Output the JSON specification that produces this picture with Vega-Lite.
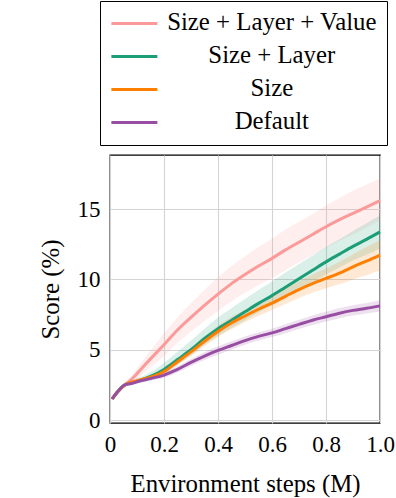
{
  "$schema": "https://vega.github.io/schema/vega-lite/v6.json",
  "autosize": {"type": "none"},
  "padding": {"left": 110, "top": 155, "right": 16, "bottom": 75},
  "width": 270,
  "height": 268,
  "background": "white",
  "config": {
    "view": {"stroke": "black", "strokeWidth": 1.3},
    "font": "Liberation Serif",
    "axis": {
      "labelFont": "Liberation Serif",
      "labelFontSize": 23,
      "labelColor": "black",
      "titleFont": "Liberation Serif",
      "titleFontSize": 24.8,
      "titleFontWeight": "normal",
      "titleColor": "black",
      "domain": false,
      "ticks": false,
      "tickSize": 0,
      "gridColor": "#d4d4d4",
      "gridWidth": 1.1,
      "gridOpacity": 1
    },
    "legend": {
      "labelFont": "Liberation Serif",
      "titleFont": "Liberation Serif"
    }
  },
  "resolve": {"legend": {"color": "independent"}},
  "datasets": {
    "curves": [
      {"m": "Size + Layer + Value", "x": 0.008, "y": 1.5, "lo": 1.4, "hi": 1.6},
      {"m": "Size + Layer + Value", "x": 0.03, "y": 2.05, "lo": 1.95, "hi": 2.15},
      {"m": "Size + Layer + Value", "x": 0.055, "y": 2.5, "lo": 2.4, "hi": 2.6},
      {"m": "Size + Layer + Value", "x": 0.08, "y": 2.9, "lo": 2.6, "hi": 3.2},
      {"m": "Size + Layer + Value", "x": 0.1, "y": 3.3, "lo": 2.9, "hi": 3.7},
      {"m": "Size + Layer + Value", "x": 0.15, "y": 4.35, "lo": 3.75, "hi": 4.95},
      {"m": "Size + Layer + Value", "x": 0.2, "y": 5.35, "lo": 4.55, "hi": 6.15},
      {"m": "Size + Layer + Value", "x": 0.25, "y": 6.4, "lo": 5.5, "hi": 7.3},
      {"m": "Size + Layer + Value", "x": 0.3, "y": 7.3, "lo": 6.3, "hi": 8.3},
      {"m": "Size + Layer + Value", "x": 0.35, "y": 8.15, "lo": 7.05, "hi": 9.25},
      {"m": "Size + Layer + Value", "x": 0.4, "y": 8.95, "lo": 7.75, "hi": 10.15},
      {"m": "Size + Layer + Value", "x": 0.45, "y": 9.7, "lo": 8.45, "hi": 10.95},
      {"m": "Size + Layer + Value", "x": 0.5, "y": 10.35, "lo": 9.05, "hi": 11.65},
      {"m": "Size + Layer + Value", "x": 0.55, "y": 10.95, "lo": 9.6, "hi": 12.3},
      {"m": "Size + Layer + Value", "x": 0.6, "y": 11.5, "lo": 10.1, "hi": 12.9},
      {"m": "Size + Layer + Value", "x": 0.65, "y": 12.1, "lo": 10.65, "hi": 13.55},
      {"m": "Size + Layer + Value", "x": 0.7, "y": 12.65, "lo": 11.2, "hi": 14.1},
      {"m": "Size + Layer + Value", "x": 0.75, "y": 13.2, "lo": 11.75, "hi": 14.65},
      {"m": "Size + Layer + Value", "x": 0.8, "y": 13.75, "lo": 12.25, "hi": 15.25},
      {"m": "Size + Layer + Value", "x": 0.85, "y": 14.25, "lo": 12.75, "hi": 15.8},
      {"m": "Size + Layer + Value", "x": 0.9, "y": 14.7, "lo": 13.2, "hi": 16.3},
      {"m": "Size + Layer + Value", "x": 0.95, "y": 15.15, "lo": 13.7, "hi": 16.75},
      {"m": "Size + Layer + Value", "x": 1.0, "y": 15.6, "lo": 14.2, "hi": 17.2},
      {"m": "Size + Layer", "x": 0.008, "y": 1.5, "lo": 1.45, "hi": 1.55},
      {"m": "Size + Layer", "x": 0.03, "y": 2.05, "lo": 2.0, "hi": 2.1},
      {"m": "Size + Layer", "x": 0.055, "y": 2.5, "lo": 2.45, "hi": 2.55},
      {"m": "Size + Layer", "x": 0.08, "y": 2.65, "lo": 2.55, "hi": 2.8},
      {"m": "Size + Layer", "x": 0.1, "y": 2.75, "lo": 2.6, "hi": 2.95},
      {"m": "Size + Layer", "x": 0.15, "y": 3.1, "lo": 2.9, "hi": 3.4},
      {"m": "Size + Layer", "x": 0.2, "y": 3.6, "lo": 3.3, "hi": 4.05},
      {"m": "Size + Layer", "x": 0.25, "y": 4.3, "lo": 3.95, "hi": 4.85},
      {"m": "Size + Layer", "x": 0.3, "y": 5.0, "lo": 4.6, "hi": 5.65},
      {"m": "Size + Layer", "x": 0.35, "y": 5.8, "lo": 5.35, "hi": 6.5},
      {"m": "Size + Layer", "x": 0.4, "y": 6.5, "lo": 6.0, "hi": 7.3},
      {"m": "Size + Layer", "x": 0.45, "y": 7.1, "lo": 6.55, "hi": 7.95},
      {"m": "Size + Layer", "x": 0.5, "y": 7.7, "lo": 7.1, "hi": 8.6},
      {"m": "Size + Layer", "x": 0.55, "y": 8.3, "lo": 7.65, "hi": 9.25},
      {"m": "Size + Layer", "x": 0.6, "y": 8.85, "lo": 8.15, "hi": 9.85},
      {"m": "Size + Layer", "x": 0.65, "y": 9.45, "lo": 8.7, "hi": 10.5},
      {"m": "Size + Layer", "x": 0.7, "y": 10.05, "lo": 9.25, "hi": 11.1},
      {"m": "Size + Layer", "x": 0.75, "y": 10.65, "lo": 9.8, "hi": 11.7},
      {"m": "Size + Layer", "x": 0.8, "y": 11.25, "lo": 10.35, "hi": 12.3},
      {"m": "Size + Layer", "x": 0.85, "y": 11.8, "lo": 10.85, "hi": 12.85},
      {"m": "Size + Layer", "x": 0.9, "y": 12.35, "lo": 11.35, "hi": 13.45},
      {"m": "Size + Layer", "x": 0.95, "y": 12.85, "lo": 11.75, "hi": 14.0},
      {"m": "Size + Layer", "x": 1.0, "y": 13.38, "lo": 12.2, "hi": 14.57},
      {"m": "Size", "x": 0.008, "y": 1.5, "lo": 1.45, "hi": 1.55},
      {"m": "Size", "x": 0.03, "y": 2.05, "lo": 2.0, "hi": 2.1},
      {"m": "Size", "x": 0.055, "y": 2.5, "lo": 2.45, "hi": 2.55},
      {"m": "Size", "x": 0.08, "y": 2.7, "lo": 2.6, "hi": 2.8},
      {"m": "Size", "x": 0.1, "y": 2.8, "lo": 2.68, "hi": 2.92},
      {"m": "Size", "x": 0.15, "y": 3.05, "lo": 2.9, "hi": 3.2},
      {"m": "Size", "x": 0.2, "y": 3.45, "lo": 3.25, "hi": 3.65},
      {"m": "Size", "x": 0.25, "y": 4.15, "lo": 3.9, "hi": 4.4},
      {"m": "Size", "x": 0.3, "y": 4.85, "lo": 4.55, "hi": 5.15},
      {"m": "Size", "x": 0.35, "y": 5.6, "lo": 5.25, "hi": 5.95},
      {"m": "Size", "x": 0.4, "y": 6.3, "lo": 5.9, "hi": 6.7},
      {"m": "Size", "x": 0.45, "y": 6.9, "lo": 6.45, "hi": 7.35},
      {"m": "Size", "x": 0.5, "y": 7.4, "lo": 6.95, "hi": 7.85},
      {"m": "Size", "x": 0.55, "y": 7.88, "lo": 7.4, "hi": 8.36},
      {"m": "Size", "x": 0.6, "y": 8.32, "lo": 7.82, "hi": 8.82},
      {"m": "Size", "x": 0.65, "y": 8.8, "lo": 8.25, "hi": 9.35},
      {"m": "Size", "x": 0.7, "y": 9.28, "lo": 8.68, "hi": 9.88},
      {"m": "Size", "x": 0.75, "y": 9.7, "lo": 9.05, "hi": 10.35},
      {"m": "Size", "x": 0.8, "y": 10.07, "lo": 9.37, "hi": 10.77},
      {"m": "Size", "x": 0.85, "y": 10.45, "lo": 9.65, "hi": 11.25},
      {"m": "Size", "x": 0.9, "y": 10.9, "lo": 10.0, "hi": 11.8},
      {"m": "Size", "x": 0.95, "y": 11.3, "lo": 10.3, "hi": 12.3},
      {"m": "Size", "x": 1.0, "y": 11.73, "lo": 10.63, "hi": 12.83},
      {"m": "Default", "x": 0.008, "y": 1.5, "lo": 1.45, "hi": 1.55},
      {"m": "Default", "x": 0.03, "y": 2.05, "lo": 2.0, "hi": 2.1},
      {"m": "Default", "x": 0.055, "y": 2.5, "lo": 2.45, "hi": 2.55},
      {"m": "Default", "x": 0.08, "y": 2.6, "lo": 2.5, "hi": 2.7},
      {"m": "Default", "x": 0.1, "y": 2.72, "lo": 2.6, "hi": 2.84},
      {"m": "Default", "x": 0.15, "y": 2.95, "lo": 2.8, "hi": 3.1},
      {"m": "Default", "x": 0.2, "y": 3.2, "lo": 3.0, "hi": 3.4},
      {"m": "Default", "x": 0.25, "y": 3.6, "lo": 3.38, "hi": 3.82},
      {"m": "Default", "x": 0.3, "y": 4.1, "lo": 3.85, "hi": 4.35},
      {"m": "Default", "x": 0.35, "y": 4.55, "lo": 4.27, "hi": 4.83},
      {"m": "Default", "x": 0.4, "y": 4.95, "lo": 4.65, "hi": 5.25},
      {"m": "Default", "x": 0.45, "y": 5.3, "lo": 5.0, "hi": 5.6},
      {"m": "Default", "x": 0.5, "y": 5.65, "lo": 5.35, "hi": 5.95},
      {"m": "Default", "x": 0.55, "y": 5.95, "lo": 5.65, "hi": 6.25},
      {"m": "Default", "x": 0.6, "y": 6.2, "lo": 5.9, "hi": 6.5},
      {"m": "Default", "x": 0.65, "y": 6.5, "lo": 6.18, "hi": 6.82},
      {"m": "Default", "x": 0.7, "y": 6.8, "lo": 6.47, "hi": 7.13},
      {"m": "Default", "x": 0.75, "y": 7.1, "lo": 6.76, "hi": 7.44},
      {"m": "Default", "x": 0.8, "y": 7.35, "lo": 7.0, "hi": 7.7},
      {"m": "Default", "x": 0.85, "y": 7.6, "lo": 7.24, "hi": 7.96},
      {"m": "Default", "x": 0.9, "y": 7.8, "lo": 7.43, "hi": 8.17},
      {"m": "Default", "x": 0.95, "y": 7.95, "lo": 7.57, "hi": 8.33},
      {"m": "Default", "x": 1.0, "y": 8.12, "lo": 7.72, "hi": 8.52}
    ]
  },
  "data": {"name": "curves"},
  "layer": [
    {
      "mark": {"type": "area", "opacity": 0.17, "interpolate": "monotone"},
      "encoding": {
        "x": {"field": "x", "type": "quantitative", "scale": {"domain": [0, 1], "nice": false}},
        "y": {"field": "lo", "type": "quantitative", "scale": {"domain": [-0.21, 18.85], "nice": false}},
        "y2": {"field": "hi"},
        "color": {
          "field": "m", "type": "nominal",
          "scale": {"domain": ["Size + Layer + Value", "Size + Layer", "Size", "Default"], "range": ["#fb9a99", "#1b9e77", "#ff7f00", "#984ea3"]},
          "legend": null
        }
      }
    },
    {
      "mark": {"type": "line", "strokeWidth": 3, "interpolate": "monotone"},
      "encoding": {
        "x": {
          "field": "x", "type": "quantitative",
          "scale": {"domain": [0, 1], "nice": false},
          "axis": {
            "title": "Environment steps (M)",
            "titleFont": "Liberation Serif",
            "labelFont": "Liberation Serif",
            "values": [0, 0.2, 0.4, 0.6, 0.8, 1.0],
            "labelExpr": "datum.value == 0 ? '0' : format(datum.value, '.1f')",
            "labelPadding": 10,
            "titlePadding": 15,
            "labelFlush": false
          }
        },
        "y": {
          "field": "y", "type": "quantitative",
          "scale": {"domain": [-0.21, 18.85], "nice": false},
          "axis": {
            "title": "Score (%)",
            "titleFont": "Liberation Serif",
            "labelFont": "Liberation Serif",
            "values": [0, 5, 10, 15],
            "labelPadding": 10,
            "titlePadding": 14
          }
        },
        "color": {
          "field": "m", "type": "nominal",
          "scale": {"domain": ["Size + Layer + Value", "Size + Layer", "Size", "Default"], "range": ["#fb9a99", "#1b9e77", "#ff7f00", "#984ea3"]},
          "legend": {
            "title": null,
            "orient": "none",
            "legendX": -10,
            "legendY": -154,
            "strokeColor": "black",
            "fillColor": "white",
            "padding": 10,
            "rowPadding": 7,
            "symbolType": "M-1.05,0H3.33",
            "symbolSize": 441,
            "symbolStrokeWidth": 3,
            "labelFont": "Liberation Serif",
            "labelFontSize": 24.8,
            "labelColor": "black",
            "labelAlign": "center",
            "labelOffset": 137,
            "labelLimit": 400
          }
        }
      }
    }
  ]
}
